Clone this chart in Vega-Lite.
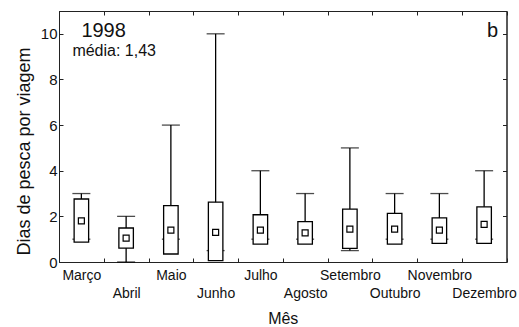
{
  "$schema": "https://vega.github.io/schema/vega-lite/v6.json",
  "autosize": {"type": "none"},
  "width": 447.5,
  "height": 251,
  "padding": {"left": 59, "top": 11, "right": 12.5, "bottom": 65},
  "background": "white",
  "config": {
    "font": "Liberation Sans",
    "view": {"stroke": "#222", "strokeWidth": 1},
    "axis": {
      "domainColor": "#222",
      "tickColor": "#222",
      "labelColor": "#111",
      "titleColor": "#111",
      "labelFont": "Liberation Sans",
      "titleFont": "Liberation Sans",
      "titleFontWeight": "normal",
      "grid": false,
      "tickSize": -4
    }
  },
  "data": {
    "values": [
      {"mes": "Março", "min": 1, "max": 3, "lo": 0.87, "hi": 2.76, "media": 1.8},
      {"mes": "Abril", "min": 0, "max": 2, "lo": 0.61, "hi": 1.49, "media": 1.05},
      {"mes": "Maio", "min": 1, "max": 6, "lo": 0.35, "hi": 2.47, "media": 1.4},
      {"mes": "Junho", "min": 0.5, "max": 10, "lo": 0.06, "hi": 2.62, "media": 1.3},
      {"mes": "Julho", "min": 1, "max": 4, "lo": 0.78, "hi": 2.07, "media": 1.4},
      {"mes": "Agosto", "min": 1, "max": 3, "lo": 0.78, "hi": 1.77, "media": 1.28},
      {"mes": "Setembro", "min": 0.5, "max": 5, "lo": 0.6, "hi": 2.32, "media": 1.44},
      {"mes": "Outubro", "min": 1, "max": 3, "lo": 0.78, "hi": 2.13, "media": 1.44},
      {"mes": "Novembro", "min": 1, "max": 3, "lo": 0.82, "hi": 1.93, "media": 1.4},
      {"mes": "Dezembro", "min": 1, "max": 4, "lo": 0.82, "hi": 2.42, "media": 1.65}
    ]
  },
  "resolve": {"axis": {"x": "independent", "y": "independent"}},
  "layer": [
    {
      "mark": {"type": "rule", "color": "black", "strokeWidth": 1.3},
      "encoding": {
        "x": {
          "field": "mes",
          "type": "nominal",
          "scale": {
            "domain": ["Março", "Abril", "Maio", "Junho", "Julho", "Agosto", "Setembro", "Outubro", "Novembro", "Dezembro"],
            "paddingInner": 0,
            "paddingOuter": 0
          },
          "axis": {
            "orient": "bottom",
            "title": "Mês",
            "titleFontSize": 16,
            "titlePadding": 10,
            "labelAngle": 0,
            "labelFontSize": 14,
            "labelBaseline": "top",
            "labelPadding": {"condition": {"test": "datum.value == 'Abril' || datum.value == 'Junho' || datum.value == 'Agosto' || datum.value == 'Outubro' || datum.value == 'Dezembro'", "value": 28}, "value": 10},
            "tickBand": "extent"
          }
        },
        "y": {
          "field": "min",
          "type": "quantitative",
          "scale": {"domain": [0, 11], "nice": false, "zero": true},
          "axis": {
            "orient": "left",
            "values": [0, 2, 4, 6, 8, 10],
            "title": "Dias de pesca por viagem",
            "titleFontSize": 18,
            "titlePadding": 7,
            "titleY": 140,
            "labelFontSize": 15,
            "labelPadding": 6
          }
        },
        "y2": {"field": "max"}
      }
    },
    {
      "mark": {"type": "tick", "color": "black", "size": 18, "thickness": 1.3},
      "encoding": {
        "x": {"field": "mes", "type": "nominal", "axis": null},
        "y": {"field": "max", "type": "quantitative", "axis": null}
      }
    },
    {
      "mark": {"type": "tick", "color": "black", "size": 18, "thickness": 1.3},
      "encoding": {
        "x": {"field": "mes", "type": "nominal", "axis": null},
        "y": {"field": "min", "type": "quantitative", "axis": null}
      }
    },
    {
      "mark": {"type": "bar", "width": 14.5, "fill": "white", "stroke": "black", "strokeWidth": 1.3},
      "encoding": {
        "x": {
          "field": "mes",
          "type": "nominal",
          "axis": {"orient": "top", "labels": false, "title": null, "tickBand": "extent"}
        },
        "y": {
          "field": "lo",
          "type": "quantitative",
          "axis": {"orient": "right", "values": [0, 2, 4, 6, 8, 10], "labels": false, "title": null}
        },
        "y2": {"field": "hi"}
      }
    },
    {
      "mark": {"type": "point", "shape": "square", "size": 36, "filled": true, "fill": "white", "stroke": "black", "strokeWidth": 1.2, "opacity": 1},
      "encoding": {
        "x": {"field": "mes", "type": "nominal", "axis": null},
        "y": {"field": "media", "type": "quantitative", "axis": null}
      }
    },
    {
      "data": {"values": [{"rotulo": "1998"}]},
      "mark": {"type": "text", "fontSize": 20, "align": "left", "baseline": "alphabetic", "fill": "#111"},
      "encoding": {
        "text": {"field": "rotulo"},
        "x": {"datum": "Março", "type": "nominal", "axis": null},
        "y": {"datum": 9.86, "type": "quantitative", "axis": null}
      }
    },
    {
      "data": {"values": [{"rotulo": "média: 1,43"}]},
      "mark": {"type": "text", "fontSize": 16, "align": "left", "baseline": "alphabetic", "dx": -9, "fill": "#111"},
      "encoding": {
        "text": {"field": "rotulo"},
        "x": {"datum": "Março", "type": "nominal", "axis": null},
        "y": {"datum": 9.03, "type": "quantitative", "axis": null}
      }
    },
    {
      "data": {"values": [{"rotulo": "b"}]},
      "mark": {"type": "text", "fontSize": 20, "align": "right", "baseline": "alphabetic", "dx": 14, "fill": "#111"},
      "encoding": {
        "text": {"field": "rotulo"},
        "x": {"datum": "Dezembro", "type": "nominal", "axis": null},
        "y": {"datum": 9.84, "type": "quantitative", "axis": null}
      }
    }
  ]
}
